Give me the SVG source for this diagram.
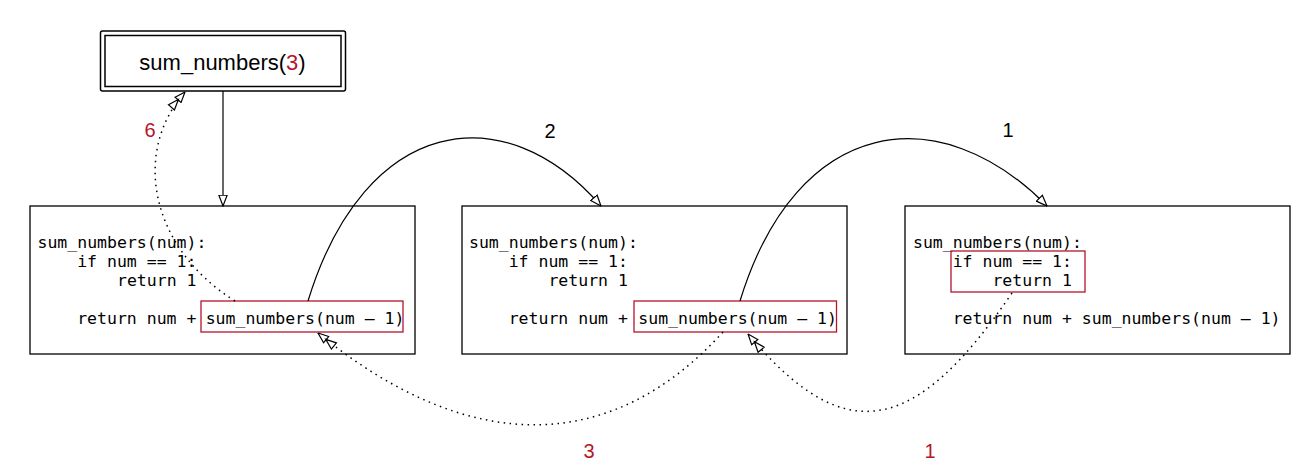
<svg xmlns="http://www.w3.org/2000/svg" width="1298" height="464" viewBox="0 0 1298 464">
<style>
.box{fill:#fff;stroke:#000;stroke-width:1.3}
.hl{fill:none;stroke:#b5152b;stroke-width:1.3}
.code{font-family:"DejaVu Sans Mono",monospace;font-size:16.5px;fill:#000}
.lbl{font-family:"Liberation Sans",Arial,sans-serif;font-size:20px;fill:#000;text-anchor:middle}
.red{fill:#b5152b}
.call{fill:none;stroke:#000;stroke-width:1.2}
.ret{fill:none;stroke:#000;stroke-width:1.5;stroke-dasharray:1.5 4.5}
</style>
<defs>
<marker id="open" viewBox="0 0 12 10" refX="11.5" refY="5" markerWidth="12" markerHeight="10" markerUnits="userSpaceOnUse" orient="auto">
<path d="M0.6,0.8 L11.5,5 L0.6,9.2 Z" fill="#fff" stroke="#000" stroke-width="1.2"/>
</marker>
<marker id="dbl" viewBox="0 0 22 10" refX="21.5" refY="5" markerWidth="22" markerHeight="10" markerUnits="userSpaceOnUse" orient="auto">
<path d="M1,1 L11.5,5 L1,9 Z M11,1 L21.5,5 L11,9 Z" fill="#fff" stroke="#000" stroke-width="1.2"/>
</marker>
</defs>
<rect width="1298" height="464" fill="#fff"/>

<g id="start">
<rect x="100.5" y="31" width="245" height="60" rx="2" fill="#fff" stroke="#000" stroke-width="1.5"/>
<rect x="105" y="35.5" width="236" height="51" fill="none" stroke="#000" stroke-width="1.5"/>
<text x="222.5" y="70" font-family="'Liberation Sans',Arial,sans-serif" font-size="22" text-anchor="middle">sum_numbers(<tspan class="red">3</tspan>)</text>
</g>

<g id="call1">
<rect class="box" x="30" y="206" width="385" height="148"/>
<text class="code" x="37.5" y="247.5">sum_numbers(num):</text>
<text class="code" x="77.2" y="266.7">if num == 1:</text>
<text class="code" x="117" y="285.9">return 1</text>
<text class="code" x="77.2" y="324.3">return num +</text>
<rect class="hl" x="201" y="301" width="202" height="31"/>
<text class="code" x="205.7" y="324.3">sum_numbers(num – 1)</text>
</g>

<g id="call2">
<rect class="box" x="462" y="206" width="385" height="148"/>
<text class="code" x="469" y="247.5">sum_numbers(num):</text>
<text class="code" x="508.7" y="266.7">if num == 1:</text>
<text class="code" x="548.4" y="285.9">return 1</text>
<text class="code" x="508.7" y="324.3">return num +</text>
<rect class="hl" x="634" y="301" width="202.5" height="31"/>
<text class="code" x="638.3" y="324.3">sum_numbers(num – 1)</text>
</g>

<g id="call3">
<rect class="box" x="905" y="206" width="385" height="148"/>
<text class="code" x="913" y="247.5">sum_numbers(num):</text>
<rect class="hl" x="951" y="251" width="134" height="41"/>
<text class="code" x="952.7" y="266.7">if num == 1:</text>
<text class="code" x="992.4" y="285.9">return 1</text>
<text class="code" x="952.7" y="324.3">return num + sum_numbers(num – 1)</text>
</g>

<g id="connectors">
<path class="call" d="M223,91 L223,206" marker-end="url(#open)"/>
<path class="call" d="M308,301 C365,115 505,95 601,206" marker-end="url(#open)"/>
<path class="call" d="M740,301 C797,115 940,97 1047,206" marker-end="url(#open)"/>
<path class="ret" d="M723,332 C615,451 474,460 318,333" marker-end="url(#dbl)"/>
<path class="ret" d="M1012,293 C915,435 845,450 748,334" marker-end="url(#dbl)"/>
<path class="ret" d="M235,301 C150,248 132,152 185,92" marker-end="url(#dbl)"/>
</g>

<g id="labels">
<text class="lbl" x="550" y="138">2</text>
<text class="lbl" x="1008" y="137">1</text>
<text class="lbl red" x="150" y="137">6</text>
<text class="lbl red" x="589" y="458">3</text>
<text class="lbl red" x="930" y="458">1</text>
</g>
</svg>
